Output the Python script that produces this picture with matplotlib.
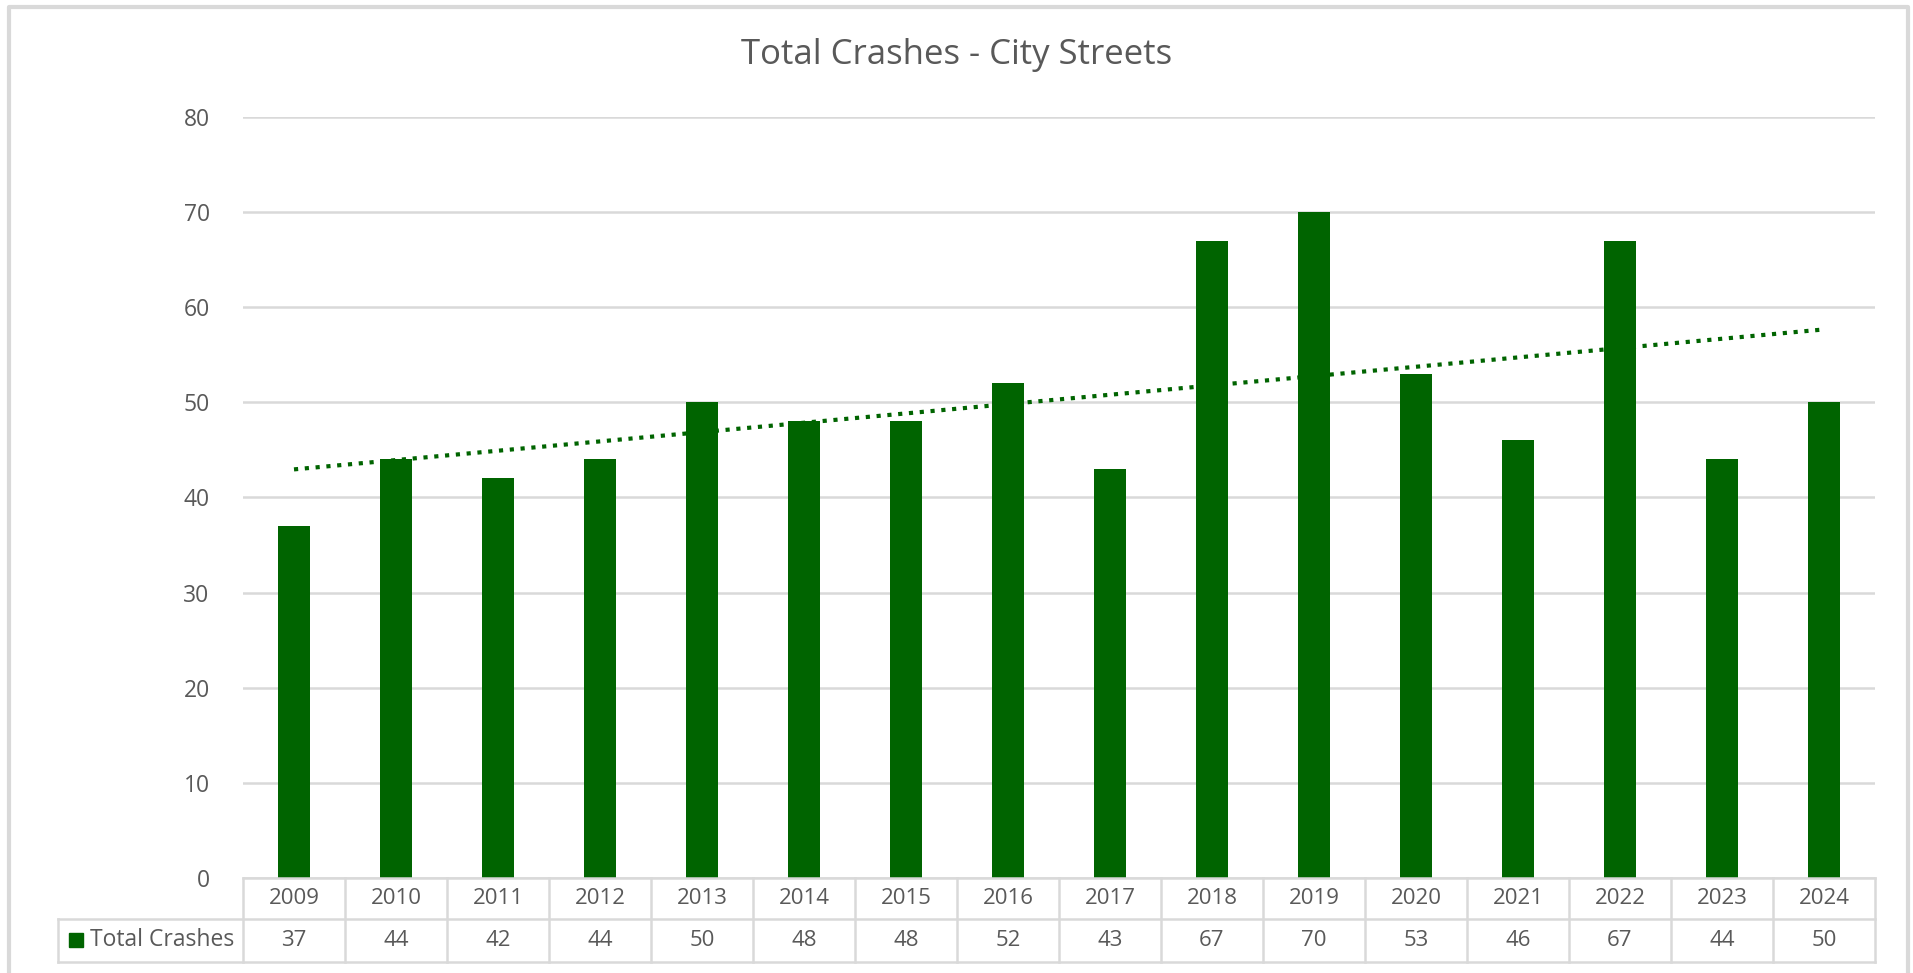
import matplotlib
matplotlib.use('Agg')
import matplotlib.pyplot as plt
from matplotlib.lines import Line2D
from matplotlib.patches import Rectangle
import numpy as np

years = ['2009', '2010', '2011', '2012', '2013', '2014', '2015', '2016',
         '2017', '2018', '2019', '2020', '2021', '2022', '2023', '2024']
crashes = [37, 44, 42, 44, 50, 48, 48, 52, 43, 67, 70, 53, 46, 67, 44, 50]
series_name = 'Total Crashes'
chart_title = 'Total Crashes - City Streets'

green = '#006400'
grey_txt = '#595959'
grid_c = '#d9d9d9'

plt.rcParams['font.family'] = ['Open Sans', 'DejaVu Sans']

W, H = 1913, 973
fig = plt.figure(figsize=(W / 100, H / 100), dpi=100)

# pixel -> figure fraction helpers
def fx(px):
    return px / W

def fy(py):
    return 1 - py / H

left_px, right_px, top_px, bot_px = 243, 1875, 117, 878
ax = fig.add_axes([fx(left_px), fy(bot_px), fx(right_px - left_px), fy(top_px) - fy(bot_px)])

x = np.arange(len(years))
ax.bar(x, crashes, width=0.31, color=green, zorder=3)

# linear trendline
k, b = np.polyfit(x, crashes, 1)
ax.plot(x, k * x + b, color=green, linestyle=(0, (1, 1.6)), linewidth=3, zorder=4)

ax.set_xlim(-0.5, len(years) - 0.5)
ax.set_ylim(0, 80)
ax.set_yticks(range(0, 81, 10))
ax.yaxis.grid(True, color=grid_c, linewidth=1.8, zorder=0)
ax.set_xticks([])
for s in ax.spines.values():
    s.set_visible(False)
ax.tick_params(axis='y', length=0, pad=24, labelsize=16.5, labelcolor=grey_txt)

fig.text(0.5, fy(55), chart_title, ha='center', va='center', fontsize=25, color=grey_txt)

# data table below the plot
row1_bot, row2_bot, leg_left = 919, 962, 58
lw = 1.8
cell_w = (right_px - left_px) / len(years)
lines = []
# horizontal lines
lines.append(([left_px, right_px], [bot_px, bot_px]))
lines.append(([leg_left, right_px], [row1_bot, row1_bot]))
lines.append(([leg_left, right_px], [row2_bot, row2_bot]))
# vertical lines
lines.append(([leg_left, leg_left], [row1_bot, row2_bot]))
for i in range(len(years) + 1):
    xp = left_px + i * cell_w
    lines.append(([xp, xp], [bot_px, row2_bot]))
for xs, ys in lines:
    fig.add_artist(Line2D([fx(v) for v in xs], [fy(v) for v in ys],
                          color=grid_c, linewidth=lw, transform=fig.transFigure))

for i, (yr, v) in enumerate(zip(years, crashes)):
    cx = left_px + (i + 0.5) * cell_w
    fig.text(fx(cx), fy((bot_px + row1_bot) / 2), yr, ha='center', va='center',
             fontsize=16, color=grey_txt)
    fig.text(fx(cx), fy((row1_bot + row2_bot) / 2), str(v), ha='center', va='center',
             fontsize=16, color=grey_txt)

fig.add_artist(Rectangle((fx(69), fy(947)), fx(14), fy(933) - fy(947),
                         color=green, transform=fig.transFigure))
fig.text(fx(90), fy((row1_bot + row2_bot) / 2), series_name, ha='left', va='center',
         fontsize=16.5, color=grey_txt)

# outer chart border
fig.add_artist(Line2D([fx(9), fx(9), fx(1908), fx(1908)], [fy(980), fy(7), fy(7), fy(980)],
                      color=grid_c, linewidth=3, transform=fig.transFigure))

fig.savefig('out.png', dpi=100, facecolor='white')
